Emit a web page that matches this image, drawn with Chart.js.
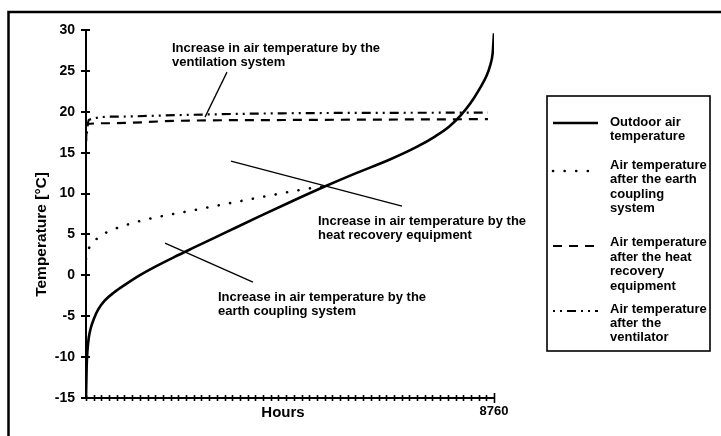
<!DOCTYPE html>
<html>
<head>
<meta charset="utf-8">
<script src="https://cdn.jsdelivr.net/npm/chart.js@4.4.1/dist/chart.umd.min.js"></script>
<style>
html,body{margin:0;padding:0;background:#fff;}
canvas{display:block;}
</style>
</head>
<body>
<canvas id="c" width="721" height="436"></canvas>
<script>
// ---------- DATA ----------
const outdoorHours = [0, 15, 30, 60, 100, 170, 260, 400, 600, 850, 1150, 1500, 1900, 2300, 3000, 3700, 4400, 5100, 5800, 6500, 7100, 7500, 7800, 8050, 8250, 8450, 8600, 8680, 8730, 8760];
const outdoorTemp  = [-15.0, -11.0, -9.3, -7.6, -6.5, -5.3, -4.2, -3.1, -2.1, -1.1, 0.0, 1.1, 2.25, 3.35, 5.25, 7.15, 9.0, 10.8, 12.5, 14.1, 15.7, 17.0, 18.2, 19.6, 21.0, 22.8, 24.4, 25.7, 27.1, 29.6];

const earthHours = [0, 21, 129, 279, 537, 773, 1009, 1267, 2297, 3156, 3886, 4766, 5131];
const earthTemp  = [2.0, 2.7, 3.8, 4.7, 5.5, 6.0, 6.4, 6.8, 7.95, 8.9, 9.7, 10.6, 10.9];

const heatHours = [0, 21, 500, 2000, 4500, 8630];
const heatTemp  = [16.3, 18.5, 18.6, 18.9, 19.0, 19.1];

const ventHours = [0, 60, 600, 2000, 4000, 8630];
const ventTemp  = [16.5, 19.0, 19.4, 19.6, 19.8, 19.9];

const yTickValues = [-15, -10, -5, 0, 5, 10, 15, 20, 25, 30];
const xMaxHours = 8760;
const xTickLabel = '8760';
const xTickIntervals = 53;

const seriesNames = [
  ['Outdoor air', 'temperature'],
  ['Air temperature', 'after the earth', 'coupling', 'system'],
  ['Air temperature', 'after the heat', 'recovery', 'equipment'],
  ['Air temperature', 'after the', 'ventilator']
];

const yTitle = 'Temperature [°C]';
const xTitle = 'Hours';

// annotations: text lines + leader line, in data units (hours, °C)
const annotations = [
  { lines: ['Increase in air temperature by the', 'ventilation system'], at: [1846, 27.75], from: [3027, 24.85], to: [2555, 19.35] },
  { lines: ['Increase in air temperature by the', 'heat recovery equipment'], at: [4981, 6.64], from: [3113, 13.97], to: [6785, 8.47] },
  { lines: ['Increase in air temperature by the', 'earth coupling system'], at: [2834, -2.65], from: [1696, 3.95], to: [3585, -0.82] }
];

// ---------- LAYOUT / STYLE ----------
const FONT = '"Liberation Sans", Arial, sans-serif';
const legendBox = { left: 547, top: 96, right: 710, bottom: 351, sampleX0: 553, sampleX1: 598, textX: 610 };
const legendTextY = [[122, 136], [165, 179, 194, 208], [242, 257, 271, 286], [309, 323, 337]];
const legendSampleY = [123, 171, 246, 311];

const pts = (xs, ys) => xs.map((h, i) => ({ x: h, y: ys[i] }));

const styles = [
  { borderWidth: 2.6, borderDash: [], borderCapStyle: 'butt' },
  { borderWidth: 2.6, borderDash: [0.1, 11.5], borderCapStyle: 'round' },
  { borderWidth: 2.2, borderDash: [9, 7], borderCapStyle: 'butt' },
  { borderWidth: 2.2, borderDash: [2, 5, 2, 5, 9, 5], borderCapStyle: 'butt' }
];

const datasets = [
  pts(outdoorHours, outdoorTemp),
  pts(earthHours, earthTemp),
  pts(heatHours, heatTemp),
  pts(ventHours, ventTemp)
].map((d, i) => Object.assign({
  label: seriesNames[i].join(' '),
  data: d,
  borderColor: '#000',
  backgroundColor: '#000',
  pointRadius: 0,
  fill: false,
  cubicInterpolationMode: 'monotone'
}, styles[i]));

const decor = {
  id: 'decor',
  beforeDraw(chart) {
    const ctx = chart.ctx;
    ctx.save();
    ctx.fillStyle = '#fff';
    ctx.fillRect(0, 0, chart.width, chart.height);
    ctx.restore();
  },
  afterDraw(chart) {
    const { ctx, scales: { x, y } } = chart;
    ctx.save();
    ctx.strokeStyle = '#000';
    ctx.fillStyle = '#000';
    ctx.setLineDash([]);
    const line = (x0, y0, x1, y1) => { ctx.beginPath(); ctx.moveTo(x0, y0); ctx.lineTo(x1, y1); ctx.stroke(); };

    // outer frame (top & left)
    ctx.lineWidth = 2.5;
    ctx.beginPath(); ctx.moveTo(8.5, chart.height); ctx.lineTo(8.5, 12); ctx.lineTo(chart.width, 12); ctx.stroke();

    // y tick marks (crossing the axis)
    ctx.lineWidth = 2;
    y.ticks.forEach(t => { const py = Math.round(y.getPixelForValue(t.value)); line(x.left - 5, py, x.left + 4, py); });
    // x tick marks (crossing the axis)
    ctx.lineWidth = 1.6;
    x.ticks.forEach(t => {
      const px = Math.round(x.getPixelForValue(t.value)) + 0.5;
      const last = t.value === xMaxHours;
      line(px, y.bottom - (last ? 5 : 3), px, y.bottom + (last ? 5 : 3));
    });

    // axis titles
    ctx.font = 'bold 15.5px ' + FONT;
    ctx.textAlign = 'center';
    ctx.textBaseline = 'middle';
    ctx.save();
    ctx.translate(42, y.getPixelForValue(5.0));
    ctx.rotate(-Math.PI / 2);
    ctx.fillText(yTitle, 0, 0);
    ctx.restore();
    ctx.font = 'bold 15px ' + FONT;
    ctx.fillText(xTitle, x.getPixelForValue(4230), 413);

    // annotations
    ctx.font = 'bold 13px ' + FONT;
    ctx.textAlign = 'left';
    ctx.lineWidth = 1.3;
    annotations.forEach(a => {
      line(x.getPixelForValue(a.from[0]), y.getPixelForValue(a.from[1]), x.getPixelForValue(a.to[0]), y.getPixelForValue(a.to[1]));
      const tx = x.getPixelForValue(a.at[0]);
      const ty = y.getPixelForValue(a.at[1]);
      a.lines.forEach((s, k) => ctx.fillText(s, tx, ty + k * 14.5));
    });

    // legend
    const L = legendBox;
    ctx.lineWidth = 1.6;
    ctx.strokeRect(L.left, L.top, L.right - L.left, L.bottom - L.top);
    chart.data.datasets.forEach((ds, i) => {
      ctx.save();
      ctx.lineWidth = ds.borderWidth;
      ctx.setLineDash(ds.borderDash || []);
      ctx.lineCap = ds.borderCapStyle || 'butt';
      line(L.sampleX0, legendSampleY[i], L.sampleX1, legendSampleY[i]);
      ctx.restore();
      seriesNames[i].forEach((s, k) => ctx.fillText(s, L.textX, legendTextY[i][k]));
    });
    ctx.restore();
  }
};

new Chart(document.getElementById('c'), {
  type: 'line',
  data: { datasets },
  plugins: [decor],
  options: {
    responsive: false,
    animation: false,
    events: [],
    layout: { padding: { left: 0, top: 30, right: 227, bottom: 0 } },
    plugins: { legend: { display: false }, tooltip: { enabled: false } },
    scales: {
      x: {
        type: 'linear',
        min: 0,
        max: xMaxHours,
        afterBuildTicks: (scale) => {
          const t = [];
          for (let i = 0; i <= xTickIntervals; i++) t.push({ value: Math.round(i * xMaxHours / xTickIntervals) });
          scale.ticks = t;
        },
        afterFit: (scale) => { scale.height = 38; },
        grid: { display: false, drawTicks: false },
        border: { display: true, color: '#000', width: 2 },
        ticks: {
          autoSkip: false,
          maxRotation: 0,
          padding: 6,
          color: '#000',
          font: { family: FONT, size: 13, weight: 'bold' },
          callback: (v) => (v === xMaxHours ? xTickLabel : '')
        }
      },
      y: {
        type: 'linear',
        min: yTickValues[0],
        max: yTickValues[yTickValues.length - 1],
        afterBuildTicks: (scale) => { scale.ticks = yTickValues.map(v => ({ value: v })); },
        afterFit: (scale) => { scale.width = 86; },
        grid: { display: false, drawTicks: false },
        border: { display: true, color: '#000', width: 2 },
        ticks: {
          padding: 11,
          color: '#000',
          font: { family: FONT, size: 14, weight: 'bold' }
        }
      }
    }
  }
});
</script>
</body>
</html>
